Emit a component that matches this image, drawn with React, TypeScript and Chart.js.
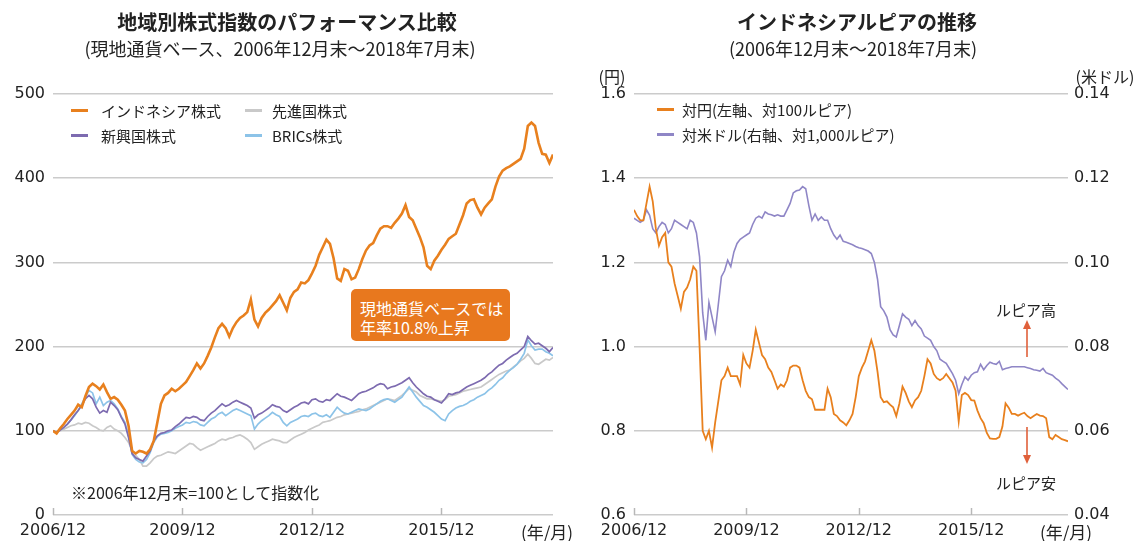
import React, { useEffect, useRef } from "react";
import { Chart, registerables } from "chart.js";

Chart.register(...registerables);

const FONT = '"Noto Sans CJK JP", "Noto Sans", sans-serif';
const TICK_FONT = '"DejaVu Sans", "Noto Sans", sans-serif';
const TEXT = "#222222";

// month index 0 = 2006/12 ... 139 = 2018/7
const xTickValues = [0, 36, 72, 108];
const xTickLabels = ["2006/12", "2009/12", "2012/12", "2015/12"];
const stockTicks = [0, 100, 200, 300, 400, 500];

const seriesNames = ["インドネシア株式", "先進国株式", "新興国株式", "BRICs株式"];
const fxNames = ["対円(左軸、対100ルピア)", "対米ドル(右軸、対1,000ルピア)"];

const indonesia = [
  100, 97, 103, 108, 114, 119, 124, 131, 128, 141,
  152, 156, 153, 149, 155, 146, 138, 140, 137, 131,
  124, 106, 76, 73, 76, 75, 73, 78, 88, 110,
  132, 142, 145, 150, 147, 150, 154, 158, 165, 172,
  180, 174, 180, 189, 199, 211, 222, 227, 222, 212,
  222, 229, 234, 237, 241, 256, 232, 224, 234, 240,
  244, 249, 254, 261, 252, 243, 258, 265, 268, 276,
  275, 279, 287, 296, 309, 318, 327, 322, 305, 281,
  278, 292, 290, 280, 282, 292, 304, 314, 320, 323,
  332, 340, 343, 343, 341, 347, 352, 358, 368, 354,
  350, 340, 330, 318, 296, 292, 302, 308, 315, 321,
  328, 331, 334, 345, 356, 370, 374, 375, 365, 357,
  365, 370, 375, 390, 402, 409, 412, 414, 417, 420,
  423, 435, 462, 466, 462, 442, 429, 428, 418, 428,
];

const emerging = [
  100, 98, 101, 104, 108, 113, 119, 124, 130, 138,
  142, 138, 128, 121, 124, 122, 134, 130, 125, 116,
  108, 92, 73, 68, 66, 64, 70, 76, 88, 94,
  97, 98, 100, 101, 105, 108, 112, 116, 115, 117,
  116, 113, 112, 117, 121, 124, 128, 132, 129, 131,
  134, 136, 134, 132, 130, 127, 115, 119, 121, 124,
  127, 131, 129, 128, 124, 122, 125, 128, 130, 133,
  134, 132, 137, 138, 135, 134, 137, 136, 140, 144,
  141, 140, 138, 136, 140, 144, 146, 147, 149, 151,
  154, 156, 155, 150, 152, 153, 155, 157, 160, 163,
  157, 152, 148, 144, 141, 140, 137, 135, 133, 138,
  144, 143, 145, 146, 149, 152, 154, 156, 158, 160,
  163, 167, 170, 174, 178, 180, 184, 187, 190, 192,
  196, 200, 212, 207, 203, 204, 201, 198, 194, 199,
];

const brics = [
  100, 98, 101, 104, 108, 113, 118, 124, 132, 140,
  148, 145, 132, 140, 130, 134, 136, 132, 126, 117,
  110, 94, 72, 66, 63, 62, 66, 74, 86, 93,
  96, 97, 98, 100, 103, 105, 107, 110, 109, 111,
  110, 107, 106, 110, 114, 116, 120, 122, 118, 121,
  124, 126, 124, 122, 120, 118, 102, 108, 112, 115,
  118, 122, 119, 117, 110, 106, 110, 112, 114, 117,
  118, 117, 120, 121, 118, 117, 119, 116, 122, 128,
  124, 121, 120, 122, 124, 126, 125, 124, 126, 129,
  132, 135, 137, 138, 136, 134, 137, 140, 146, 152,
  146, 140, 135, 130, 128, 125, 122, 118, 114, 112,
  120, 124, 127, 129, 130, 132, 135, 137, 140, 142,
  144, 148, 151, 155, 160, 163, 168, 172, 175, 179,
  185, 192, 208, 201, 196, 197, 197, 194, 192, 189,
];

const developed = [
  100, 99, 100, 102, 104, 106, 107, 109, 108, 110,
  109, 106, 104, 101, 100, 104, 106, 102, 100, 97,
  92, 86, 77, 71, 66, 58, 58, 62, 67, 70,
  71, 73, 75, 74, 73, 76, 79, 82, 85, 84,
  80, 77, 79, 81, 83, 85, 88, 90, 89, 91,
  92, 94, 95, 93, 90, 86, 78, 81, 84, 86,
  88, 90, 89, 88, 86, 86, 89, 92, 94, 96,
  98, 101, 103, 105, 107, 110, 111, 112, 114, 116,
  117, 119, 120, 121, 122, 123, 125, 126, 128, 130,
  132, 134, 136, 138, 137, 136, 139, 142, 146, 150,
  148, 146, 142, 140, 138, 138, 137, 136, 135, 137,
  141, 142, 143, 145, 147, 148, 149, 150, 151, 152,
  155, 158, 161, 164, 167, 169, 171, 172, 176, 179,
  183, 186, 191, 186, 180, 179, 182, 185, 184, 187,
];

const jpyPer100Idr = [
  1.325, 1.31, 1.30, 1.30, 1.34, 1.38, 1.345, 1.28, 1.24, 1.26,
  1.27, 1.20, 1.19, 1.15, 1.12, 1.09, 1.13, 1.14, 1.16, 1.19,
  1.18, 1.00, 0.80, 0.78, 0.80, 0.76, 0.82, 0.87, 0.92, 0.93,
  0.95, 0.93, 0.93, 0.93, 0.91, 0.98, 0.96, 0.95, 0.99, 1.04,
  1.01, 0.98, 0.97, 0.95, 0.94, 0.92, 0.90, 0.91, 0.905, 0.92,
  0.95, 0.955, 0.955, 0.95, 0.92, 0.895, 0.88, 0.875, 0.85, 0.85,
  0.85, 0.85, 0.90, 0.88, 0.84, 0.835, 0.825, 0.82, 0.813, 0.825,
  0.84, 0.88, 0.93, 0.95, 0.965, 0.99, 1.015, 0.99, 0.94, 0.88,
  0.868, 0.87, 0.862, 0.856, 0.835, 0.865, 0.905, 0.89, 0.87, 0.856,
  0.872, 0.88, 0.895, 0.93, 0.97, 0.96, 0.935, 0.925, 0.92, 0.925,
  0.935, 0.925, 0.915, 0.895, 0.822, 0.885, 0.89, 0.885, 0.873, 0.872,
  0.848, 0.83, 0.818, 0.795, 0.782, 0.781, 0.781, 0.785, 0.81, 0.865,
  0.855, 0.84, 0.84, 0.836, 0.84, 0.843, 0.835, 0.83, 0.835, 0.84,
  0.836, 0.835, 0.83, 0.785, 0.78, 0.79, 0.785, 0.78, 0.778, 0.775,
];

const usdPer1000Idr = [
  0.1105, 0.110, 0.1095, 0.110, 0.1125, 0.1112, 0.108, 0.107, 0.1085, 0.1095,
  0.109, 0.107, 0.108, 0.110, 0.1095, 0.109, 0.1085, 0.108, 0.110, 0.1095,
  0.107, 0.1013, 0.088, 0.0815, 0.0905, 0.087, 0.0835, 0.090, 0.0966, 0.098,
  0.1005, 0.099, 0.1025, 0.1045, 0.1055, 0.106, 0.1065, 0.107, 0.109, 0.1105,
  0.111, 0.1105, 0.112, 0.1115, 0.1113, 0.111, 0.1113, 0.111, 0.111, 0.1125,
  0.114, 0.1165, 0.117, 0.1172, 0.118, 0.1175, 0.1135, 0.110, 0.1115, 0.110,
  0.1108, 0.110, 0.110, 0.108, 0.1065, 0.1055, 0.1065, 0.105, 0.1048, 0.1045,
  0.1042, 0.1038, 0.1035, 0.1033, 0.103, 0.1027, 0.1021, 0.100, 0.096, 0.0895,
  0.0885, 0.087, 0.084, 0.0828, 0.0823, 0.085, 0.0878, 0.087, 0.0865, 0.085,
  0.0862, 0.085, 0.0842, 0.0825, 0.082, 0.0815, 0.080, 0.079, 0.077, 0.0765,
  0.076, 0.0748, 0.0736, 0.072, 0.0688, 0.071, 0.0728, 0.072, 0.0732, 0.0738,
  0.074, 0.0758, 0.0745, 0.0755, 0.0763, 0.076, 0.0758, 0.0765, 0.0745, 0.0748,
  0.075, 0.0752, 0.0752, 0.0752, 0.0752, 0.0752, 0.075, 0.0748, 0.0745, 0.0744,
  0.0742, 0.0748, 0.0738, 0.0735, 0.0732, 0.0725, 0.072, 0.0712, 0.0705, 0.0698,
];

const C_ORANGE = "#e8801e";
const C_PURPLE = "#7d6bb0";
const C_GRAY = "#c9c9c9";
const C_BLUE = "#8cc3e8";
const C_LAV = "#8f86c6";
const C_GRID = "#cbcbcb";

const toPts = (arr: number[]) => arr.map((v, i) => ({ x: i, y: v }));

const upTicksPlugin = {
  id: "upTicks",
  afterDatasetsDraw(chart: any) {
    const { ctx, chartArea, scales } = chart;
    const xs = scales.x;
    ctx.save();
    ctx.strokeStyle = "#b8b8b8";
    ctx.lineWidth = 1.5;
    xs.ticks.forEach((t: any) => {
      const px = Math.round(xs.getPixelForValue(t.value)) + 0.5;
      ctx.beginPath();
      ctx.moveTo(px, chartArea.bottom);
      ctx.lineTo(px, chartArea.bottom - 7);
      ctx.stroke();
    });
    ctx.restore();
  },
};

const tickFont = { family: TICK_FONT, size: 16 };

function xScale() {
  return {
    type: "linear" as const,
    min: 0,
    max: 139,
    afterBuildTicks: (s: any) => {
      s.ticks = xTickValues.map((v) => ({ value: v }));
    },
    afterFit: (s: any) => {
      s.height = 26;
    },
    grid: { display: false, drawTicks: false },
    border: { display: false },
    ticks: {
      autoSkip: false,
      maxRotation: 0,
      padding: 6,
      color: TEXT,
      font: tickFont,
      callback: (v: any) => {
        const i = xTickValues.indexOf(v);
        return i >= 0 ? xTickLabels[i] : "";
      },
    },
  };
}

function LeftChart() {
  const ref = useRef<HTMLCanvasElement>(null);
  useEffect(() => {
    const chart = new Chart(ref.current!, {
      type: "line",
      data: {
        datasets: [
          { label: seriesNames[0], data: toPts(indonesia), borderColor: C_ORANGE, borderWidth: 2.6 },
          { label: seriesNames[2], data: toPts(emerging), borderColor: C_PURPLE, borderWidth: 1.7 },
          { label: seriesNames[3], data: toPts(brics), borderColor: C_BLUE, borderWidth: 1.7 },
          { label: seriesNames[1], data: toPts(developed), borderColor: C_GRAY, borderWidth: 1.7 },
        ],
      },
      options: {
        responsive: false,
        devicePixelRatio: 1,
        animation: false,
        parsing: false as any,
        elements: { point: { radius: 0 }, line: { tension: 0 } },
        layout: { padding: { left: 0, right: 17, top: 94, bottom: 0 } },
        plugins: { legend: { display: false }, tooltip: { enabled: false } },
        scales: {
          x: xScale(),
          y: {
            min: 0,
            max: 500,
            afterBuildTicks: (s: any) => {
              s.ticks = stockTicks.map((v) => ({ value: v }));
            },
            afterFit: (s: any) => {
              s.width = 53;
            },
            grid: { color: C_GRID, lineWidth: 1.6, drawTicks: false },
            border: { display: false },
            ticks: { padding: 8, color: TEXT, font: tickFont },
          },
        },
      } as any,
      plugins: [upTicksPlugin],
    });
    return () => chart.destroy();
  }, []);
  return <canvas ref={ref} width={570} height={541} style={{ position: "absolute", left: 0, top: 0 }} />;
}

function RightChart() {
  const ref = useRef<HTMLCanvasElement>(null);
  useEffect(() => {
    const chart = new Chart(ref.current!, {
      type: "line",
      data: {
        datasets: [
          { label: fxNames[0], data: toPts(jpyPer100Idr), borderColor: C_ORANGE, borderWidth: 1.8, yAxisID: "y" },
          { label: fxNames[1], data: toPts(usdPer1000Idr), borderColor: C_LAV, borderWidth: 1.6, yAxisID: "y2" },
        ],
      },
      options: {
        responsive: false,
        devicePixelRatio: 1,
        animation: false,
        parsing: false as any,
        elements: { point: { radius: 0 }, line: { tension: 0 } },
        layout: { padding: { left: 0, right: 0, top: 94, bottom: 0 } },
        plugins: { legend: { display: false }, tooltip: { enabled: false } },
        scales: {
          x: xScale(),
          y: {
            position: "left",
            min: 0.6,
            max: 1.6,
            afterBuildTicks: (s: any) => {
              s.ticks = [0.6, 0.8, 1.0, 1.2, 1.4, 1.6].map((v) => ({ value: v }));
            },
            afterFit: (s: any) => {
              s.width = 64;
            },
            grid: { color: C_GRID, lineWidth: 1.6, drawTicks: false },
            border: { display: false },
            ticks: {
              padding: 8,
              color: TEXT,
              font: tickFont,
              callback: (v: any) => Number(v).toFixed(1),
            },
          },
          y2: {
            position: "right",
            min: 0.04,
            max: 0.14,
            afterBuildTicks: (s: any) => {
              s.ticks = [0.04, 0.06, 0.08, 0.1, 0.12, 0.14].map((v) => ({ value: v }));
            },
            afterFit: (s: any) => {
              s.width = 71;
            },
            grid: { display: false, drawTicks: false },
            border: { display: false },
            ticks: {
              padding: 6,
              color: TEXT,
              font: tickFont,
              callback: (v: any) => Number(v).toFixed(2),
            },
          },
        },
      } as any,
      plugins: [upTicksPlugin],
    });
    return () => chart.destroy();
  }, []);
  return <canvas ref={ref} width={569} height={541} style={{ position: "absolute", left: 570, top: 0 }} />;
}

const T = (
  text: string,
  x: number,
  y: number,
  size: number,
  opts: { bold?: boolean; align?: "center" | "left"; color?: string } = {}
) => (
  <div
    style={{
      position: "absolute",
      left: x,
      top: y,
      transform: `translate(${opts.align === "left" ? "0" : "-50%"}, -50%)`,
      fontSize: size,
      fontWeight: opts.bold ? 700 : 400,
      color: opts.color || TEXT,
      whiteSpace: "nowrap",
      lineHeight: 1,
      fontFamily: FONT,
    }}
  >
    {text}
  </div>
);

const Swatch = (x: number, y: number, color: string, w: number) => (
  <div style={{ position: "absolute", left: x, top: y - 1.5, width: w, height: 3, background: color }} />
);

export default function App() {
  return (
    <div
      style={{
        position: "absolute",
        left: 0,
        top: 0,
        width: 1139,
        height: 541,
        background: "#ffffff",
        overflow: "hidden",
        fontFamily: FONT,
      }}
    >
      <LeftChart />
      <RightChart />

      {T("地域別株式指数のパフォーマンス比較", 287, 22, 20, { bold: true })}
      {T("(現地通貨ベース、2006年12月末～2018年7月末)", 280, 48, 18)}
      {T("インドネシアルピアの推移", 857, 22, 20, { bold: true })}
      {T("(2006年12月末～2018年7月末)", 853, 48, 18)}

      {Swatch(71, 110, C_ORANGE, 17)}
      {T(seriesNames[0], 101, 110, 15, { align: "left" })}
      {Swatch(245, 110, C_GRAY, 17)}
      {T(seriesNames[1], 272, 110, 15, { align: "left" })}
      {Swatch(71, 135, C_PURPLE, 17)}
      {T(seriesNames[2], 101, 135, 15, { align: "left" })}
      {Swatch(245, 135, C_BLUE, 17)}
      {T(seriesNames[3], 272, 135, 15, { align: "left" })}

      <div
        style={{
          position: "absolute",
          left: 351,
          top: 289,
          width: 159,
          height: 52,
          background: "#e8781e",
          borderRadius: 5,
        }}
      />
      {T("現地通貨ベースでは", 360, 308, 16, { align: "left", color: "#ffffff" })}
      {T("年率10.8%上昇", 360, 327, 16, { align: "left", color: "#ffffff" })}

      {T("※2006年12月末=100として指数化", 71, 492, 16, { align: "left" })}
      {T("(年/月)", 547, 531, 17)}

      {T("(円)", 612, 76, 16)}
      {T("(米ドル)", 1105, 76, 16)}
      {T("(年/月)", 1066, 531, 17)}

      {Swatch(657, 109, C_ORANGE, 17)}
      {T(fxNames[0], 682, 109, 15, { align: "left" })}
      {Swatch(657, 134, C_LAV, 17)}
      {T(fxNames[1], 682, 134, 15, { align: "left" })}

      {T("ルピア高", 1026, 309, 15)}
      {T("ルピア安", 1026, 482, 15)}
      <svg width={1139} height={541} style={{ position: "absolute", left: 0, top: 0, pointerEvents: "none" }}>
        <line x1={1027} y1={357} x2={1027} y2={327} stroke="#e0603a" strokeWidth={1.6} />
        <polygon points="1023,329 1031,329 1027,320" fill="#e0603a" />
        <line x1={1027} y1={427} x2={1027} y2={457} stroke="#e0603a" strokeWidth={1.6} />
        <polygon points="1023,455 1031,455 1027,464" fill="#e0603a" />
      </svg>
    </div>
  );
}
